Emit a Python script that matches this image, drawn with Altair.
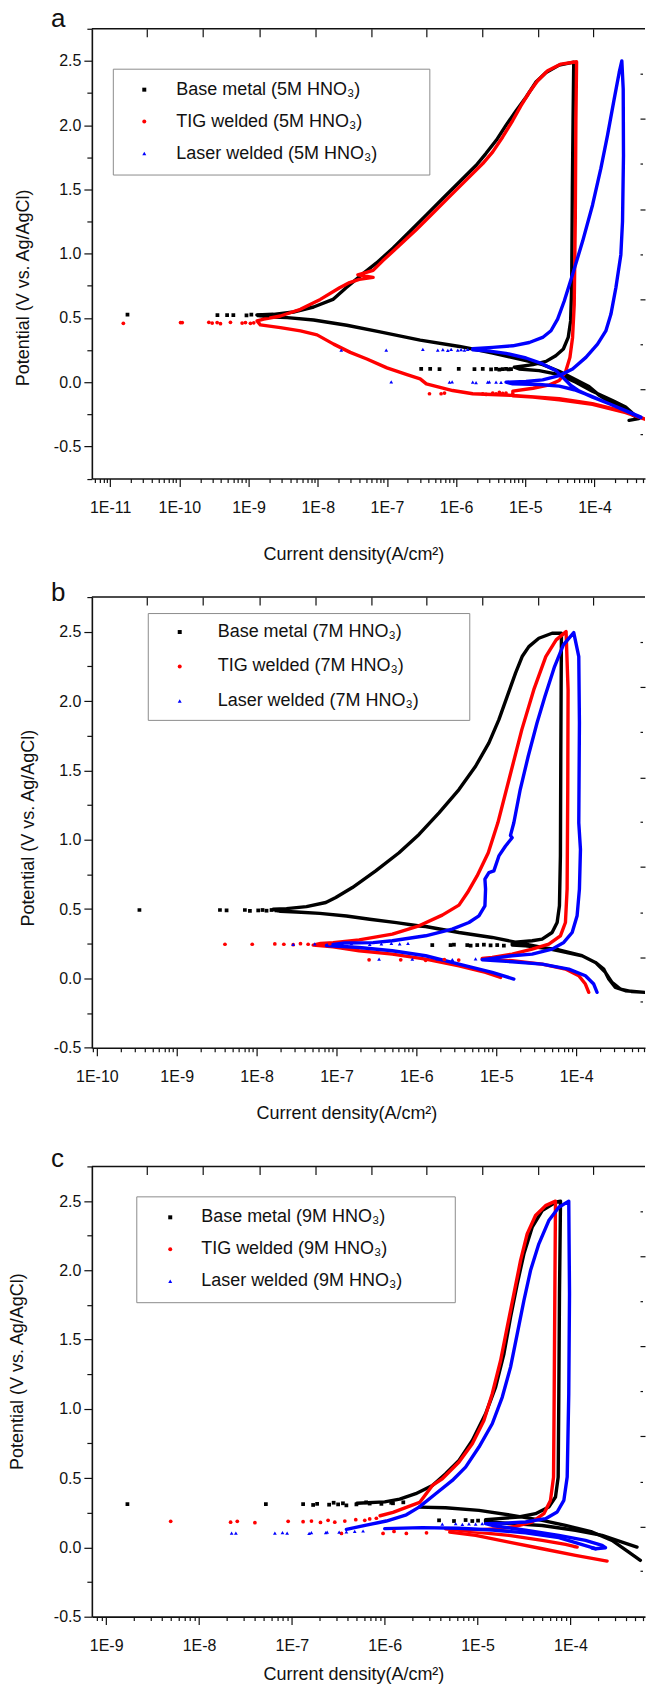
import math
import altair as alt
import pandas as pd

FONT = "Liberation Sans, Arial, Helvetica, sans-serif"
COLORS = ["#000000", "#ff0000", "#0000ff"]
SHAPES = ["square", "circle", "triangle-up"]

# ---------------- Panel a (5M HNO3): log10(current density A/cm2) and potential V ----------------
A_BM_LOGI = [-3.50, -3.36, -3.55, -3.74, -4.03, -4.27, -4.51, -4.80, -5.09,
             -5.16, -4.89, -4.70, -4.56, -4.45, -4.38, -4.345, -4.33, -4.32, -4.31, -4.30,
             -4.51, -4.70, -4.85, -4.99, -5.13, -5.28, -5.42, -5.57, -5.71, -5.95, -6.19, -6.43, -6.67, -6.91,
             -7.15, -7.35, -7.59, -7.78, -8.06, -8.35, -8.64, -8.88,
             -8.73, -8.44, -8.06, -7.58, -7.10, -6.52, -5.95, -5.47, -4.99, -4.75, -4.51, -4.27, -4.08, -3.93,
             -3.74, -3.55, -3.40]
A_BM_V = [-0.297, -0.284, -0.194, -0.142, -0.070, 0.000, 0.059, 0.090, 0.103,
          0.116, 0.137, 0.162, 0.206, 0.258, 0.348, 0.477, 0.735, 1.508, 2.024, 2.490,
          2.467, 2.410, 2.333, 2.217, 2.114, 1.998, 1.882, 1.779, 1.688, 1.560, 1.431, 1.302, 1.173, 1.044,
          0.928, 0.843, 0.735, 0.644, 0.585, 0.546, 0.528, 0.523,
          0.508, 0.502, 0.484, 0.443, 0.392, 0.327, 0.278, 0.227, 0.167, 0.137, 0.085, 0.018, -0.034, -0.103,
          -0.168, -0.219, -0.271]
A_BM_PTS_LOGI = [-6.505, -6.375, -6.24, -5.962, -5.735, -5.615, -5.495, -5.423, -5.375, -5.327, -5.279, -5.24, -5.206,
                 -10.75, -9.45, -9.31, -9.22, -9.03, -8.96, -8.85, -8.80, -8.73]
A_BM_PTS_V = [0.103, 0.103, 0.101, 0.103, 0.101, 0.103, 0.100, 0.103, 0.098, 0.101, 0.103, 0.099, 0.102,
              0.525, 0.522, 0.522, 0.522, 0.519, 0.526, 0.520, 0.524, 0.519]

A_TIG_LOGI = [-3.26, -3.55, -4.03, -4.51, -4.89, -5.18,
              -5.18, -4.89, -4.65, -4.51, -4.42, -4.355, -4.317, -4.293, -4.278, -4.269, -4.259,
              -4.485, -4.677, -4.822, -4.942, -5.062, -5.182, -5.327, -5.471, -5.615, -5.856, -6.096, -6.337,
              -6.577, -6.818, -7.058, -7.20, -7.42, -7.20, -7.40, -7.54, -7.684, -7.963, -8.251, -8.54, -8.78, -8.877,
              -8.83, -8.54, -8.25, -8.01, -7.77, -7.53, -7.29, -7.00, -6.71, -6.52, -6.43, -6.05, -5.76, -5.18,
              -4.51, -4.03, -3.55, -3.26]
A_TIG_V = [-0.289, -0.237, -0.173, -0.137, -0.116, -0.106,
           -0.070, -0.047, -0.021, 0.013, 0.077, 0.193, 0.348, 0.606, 1.250, 2.024, 2.493,
           2.475, 2.423, 2.346, 2.256, 2.152, 2.036, 1.908, 1.792, 1.701, 1.572, 1.444, 1.315,
           1.186, 1.065, 0.946, 0.870, 0.835, 0.815, 0.800, 0.775, 0.735, 0.644, 0.567, 0.515, 0.490, 0.477,
           0.446, 0.425, 0.399, 0.368, 0.296, 0.232, 0.180, 0.111, 0.059, 0.026, -0.013, -0.065, -0.090, -0.103,
           -0.129, -0.168, -0.232, -0.289]
A_TIG_PTS_LOGI = [-6.385, -6.217, -6.168, -5.615, -5.567, -5.471, -5.423, -5.375, -5.327, -5.279,
                  -10.81, -9.983, -9.959, -9.574, -9.526, -9.454, -9.406, -9.262, -9.093, -9.045, -8.973, -8.925]
A_TIG_PTS_V = [-0.090, -0.090, -0.085, -0.090, -0.095, -0.085, -0.090, -0.080, -0.088, -0.085,
               0.458, 0.464, 0.464, 0.466, 0.460, 0.464, 0.455, 0.466, 0.460, 0.464, 0.458, 0.462]

A_LAS_LOGI = [-3.33, -3.547, -3.788, -4.028, -4.22, -4.341, -4.437, -4.557, -4.75, -4.99, -5.279, -5.567, -5.76,
              -5.76, -5.471, -5.182, -4.942, -4.75, -4.629, -4.533, -4.437, -4.317, -4.172, -4.028, -3.908,
              -3.812, -3.715, -3.643, -3.605,
              -3.585, -3.581, -3.595, -3.619, -3.691, -3.763, -3.836, -3.956, -4.124, -4.317, -4.509, -4.75,
              -4.99, -5.279,
              -5.182, -4.798, -4.509, -4.293, -4.076, -3.788, -3.499, -3.33]
A_LAS_V = [-0.276, -0.224, -0.168, -0.116, -0.070, -0.026, 0.026, 0.090, 0.142, 0.188, 0.224, 0.245, 0.252,
           0.260, 0.271, 0.283, 0.309, 0.348, 0.400, 0.490, 0.632, 0.838, 1.096, 1.379, 1.663,
           1.920, 2.204, 2.410, 2.500,
           2.281, 1.766, 1.250, 0.992, 0.735, 0.528, 0.399, 0.296, 0.193, 0.103, 0.051, 0.018,
           0.005, 0.000,
           -0.013, -0.018, -0.031, -0.059, -0.103, -0.168, -0.232, -0.271]
A_LAS_PTS_LOGI = [-7.66, -7.01, -6.481, -6.265, -6.192, -6.12, -6.072, -5.976, -5.928, -5.88, -5.832,
                  -6.938, -6.096, -6.058, -5.76, -5.712, -5.543, -5.52, -5.423, -5.351]
A_LAS_PTS_V = [0.250, 0.250, 0.255, 0.250, 0.253, 0.248, 0.255, 0.250, 0.253, 0.250, 0.255,
               0.003, 0.000, 0.003, 0.000, -0.003, 0.000, 0.003, 0.000, -0.002]

# ---------------- Panel b (7M HNO3) ----------------
B_BM_LOGI = [-3.134, -3.384, -3.509, -3.592, -3.655, -3.759, -3.926, -4.217, -4.634, -4.80,
             -4.80, -4.55, -4.426, -4.301, -4.238, -4.209, -4.197, -4.192, -4.188, -4.184,
             -4.301, -4.467, -4.592, -4.676, -4.759, -4.863, -4.967, -5.092, -5.259, -5.467, -5.717, -5.967,
             -6.217, -6.509, -6.801, -7.009, -7.134, -7.376, -7.626, -7.793,
             -7.70, -7.501, -7.209, -6.876, -6.584, -6.251, -5.959, -5.884, -5.467, -5.051, -4.634, -4.217,
             -3.926, -3.759, -3.634, -3.551, -3.446, -3.301, -3.134]
B_BM_V = [-0.101, -0.089, -0.065, -0.005, 0.067, 0.115, 0.163, 0.206, 0.235, 0.240,
          0.259, 0.271, 0.283, 0.331, 0.403, 0.523, 0.883, 1.602, 2.082, 2.489,
          2.489, 2.453, 2.393, 2.321, 2.201, 2.034, 1.866, 1.698, 1.530, 1.362, 1.194, 1.038,
          0.906, 0.775, 0.655, 0.583, 0.547, 0.517, 0.503, 0.498,
          0.484, 0.479, 0.469, 0.450, 0.426, 0.402, 0.378, 0.374, 0.331, 0.295, 0.247, 0.199,
          0.163, 0.115, 0.043, -0.029, -0.077, -0.096, -0.101]
B_BM_PTS_LOGI = [-5.801, -5.572, -5.53, -5.363, -5.321, -5.238, -5.155, -5.071, -4.988, -4.905,
                 -9.467, -8.459, -8.376, -8.147, -8.084, -7.98, -7.926, -7.876, -7.813, -7.751, -7.688]
B_BM_PTS_V = [0.240, 0.240, 0.243, 0.240, 0.236, 0.240, 0.243, 0.238, 0.240, 0.236,
              0.493, 0.493, 0.490, 0.493, 0.486, 0.490, 0.493, 0.488, 0.493, 0.490, 0.486]

B_TIG_LOGI = [-4.946, -5.134, -5.467, -5.884, -6.301, -6.717, -7.042, -7.292,
              -7.20, -7.042, -6.717, -6.301, -5.967, -5.676, -5.467, -5.36, -5.24, -5.10, -4.98, -4.83,
              -4.68, -4.53, -4.38, -4.25, -4.126,
              -4.101, -4.105, -4.113, -4.134, -4.197, -4.342, -4.551, -4.801, -5.051, -5.176,
              -5.176, -4.801, -4.426, -4.134, -3.967, -3.884, -3.842]
B_TIG_V = [0.007, 0.043, 0.091, 0.139, 0.175, 0.199, 0.228, 0.240,
           0.252, 0.258, 0.278, 0.319, 0.379, 0.456, 0.528, 0.619, 0.739, 0.906, 1.122, 1.458,
           1.794, 2.082, 2.321, 2.441, 2.501,
           2.082, 1.362, 0.643, 0.403, 0.307, 0.247, 0.211, 0.175, 0.151, 0.144,
           0.139, 0.127, 0.103, 0.067, 0.019, -0.041, -0.101]
B_TIG_PTS_LOGI = [-8.396, -8.055, -7.772, -7.659, -7.542, -7.451, -7.355, -7.209, -7.084,
                  -6.592, -6.196, -5.884, -5.65, -5.47]
B_TIG_PTS_V = [0.246, 0.246, 0.248, 0.246, 0.243, 0.250, 0.246, 0.243, 0.250,
               0.134, 0.134, 0.130, 0.136, 0.132]

B_LAS_LOGI = [-4.78, -5.051, -5.467, -5.884, -6.301, -6.717, -7.126,
              -6.90, -6.542, -6.301, -5.884, -5.551, -5.342, -5.217, -5.142, -5.134, -5.142, -5.092, -5.03,
              -4.967, -4.884, -4.801, -4.822, -4.78, -4.70, -4.60, -4.49, -4.39, -4.27, -4.16, -4.03,
              -3.967, -3.959, -3.967, -3.946, -3.959, -3.988, -4.05, -4.155, -4.301, -4.551, -4.801, -5.051,
              -5.176, -4.801, -4.426, -4.092, -3.884, -3.78, -3.738]
B_LAS_V = [-0.005, 0.043, 0.103, 0.163, 0.199, 0.223, 0.237,
           0.255, 0.258, 0.271, 0.307, 0.355, 0.403, 0.451, 0.523, 0.643, 0.715, 0.763, 0.775,
           0.883, 0.955, 1.014, 1.031, 1.122, 1.362, 1.602, 1.842, 2.034, 2.249, 2.405, 2.494,
           2.321, 1.842, 1.122, 0.930, 0.643, 0.451, 0.331, 0.259, 0.211, 0.175, 0.163, 0.144,
           0.134, 0.120, 0.103, 0.067, 0.019, -0.041, -0.101]
B_LAS_PTS_LOGI = [-7.542, -7.272, -7.042, -6.813, -6.584, -6.438, -6.313, -6.209, -6.105,
                  -6.467, -6.051, -5.738, -5.55, -5.259]
B_LAS_PTS_V = [0.245, 0.248, 0.243, 0.250, 0.245, 0.248, 0.252, 0.248, 0.252,
               0.139, 0.139, 0.140, 0.136, 0.140]

# ---------------- Panel c (9M HNO3); None starts a new stretch of the curve ----------------
C_BM_LOGI = [-3.247, -3.372, -3.552, -3.767, -4.053, -4.304, -4.627, -4.985, -5.344, -5.63, None,
             -6.30, -6.00, -5.839, -5.666, -5.487, -5.344, -5.20, -5.057, -4.914, -4.806, -4.716, -4.645,
             -4.573, -4.501, -4.412, -4.304, -4.161, -4.107,
             -4.118, -4.125, -4.132, -4.161, -4.233, -4.376, -4.555, -4.77, -4.914,
             -4.914, -4.627, -4.304, -3.946, -3.659, -3.444, -3.283]
C_BM_V = [-0.094, -0.034, 0.050, 0.111, 0.158, 0.195, 0.231, 0.267, 0.286, 0.290, None,
          0.318, 0.328, 0.348, 0.387, 0.447, 0.531, 0.628, 0.772, 0.964, 1.157, 1.397, 1.662,
          1.902, 2.119, 2.311, 2.431, 2.491, 2.499,
          1.830, 1.108, 0.507, 0.363, 0.291, 0.243, 0.219, 0.207, 0.200,
          0.185, 0.171, 0.158, 0.123, 0.086, 0.038, 0.002]
C_BM_PTS_LOGI = [-8.771, -7.28, -6.879, -6.771, -6.728, -6.599, -6.502, -6.413, -6.305, -6.162, -6.036, -5.911,
                 -6.55, -6.45, -6.2, -5.93, -5.8, -5.415, -5.254, -5.129, -5.057, -4.995]
C_BM_PTS_V = [0.312, 0.312, 0.312, 0.306, 0.314, 0.308, 0.310, 0.303, 0.310, 0.316, 0.314, 0.318,
              0.322, 0.318, 0.325, 0.322, 0.325, 0.195, 0.190, 0.197, 0.190, 0.193]

C_TIG_LOGI = [-3.605, -3.946, -4.304, -4.663, -5.021, -5.30, None,
              -6.05, -5.911, -5.768, -5.624, -5.487, -5.38, -5.20, -5.057, -4.932, -4.842, -4.752, -4.681,
              -4.609, -4.537, -4.466, -4.376, -4.268, -4.161,
              -4.168, -4.175, -4.182, -4.215, -4.286, -4.412, -4.591, -4.77, -5.129,
              -5.344, -5.021, -4.663, -4.304, -4.053, -3.928, -3.96]
C_TIG_V = [-0.099, -0.058, -0.010, 0.038, 0.086, 0.110, None,
           0.228, 0.252, 0.288, 0.324, 0.447, 0.495, 0.616, 0.748, 0.916, 1.109, 1.349, 1.590,
           1.830, 2.071, 2.263, 2.395, 2.467, 2.499,
           1.830, 1.108, 0.507, 0.339, 0.243, 0.183, 0.151, 0.134, 0.122,
           0.134, 0.110, 0.086, 0.050, 0.021, 0.002, 0.005]
C_TIG_PTS_LOGI = [-8.305, -7.66, -7.588, -7.398, -7.04, -6.879, -6.789, -6.692, -6.61, -6.538, -6.43, -6.312,
                  -6.215, -6.162, -6.09, -6.466, -6.018, -5.767, -5.55, -5.9]
C_TIG_PTS_V = [0.188, 0.182, 0.188, 0.178, 0.188, 0.185, 0.190, 0.180, 0.195, 0.182, 0.190, 0.200,
               0.195, 0.205, 0.210, 0.100, 0.100, 0.100, 0.105, 0.115]

C_LAS_LOGI = [-3.73, -4.125, -4.483, -4.842, -5.20, -5.60, -6.00, None,
              -6.413, -6.198, -5.983, -5.767, -5.63, -5.451, -5.272, -5.129, -4.985, -4.842, -4.734, -4.645,
              -4.573, -4.501, -4.43, -4.34, -4.233, -4.125, -4.018,
              -4.01, -4.018, -4.035, -4.071, -4.143, -4.268, -4.483, -4.699, -4.914,
              -4.842, -4.483, -4.125, -3.838, -3.659, -3.623, -3.731, -3.767]
C_LAS_V = [-0.010, 0.070, 0.105, 0.125, 0.138, 0.142, 0.135, None,
           0.130, 0.160, 0.190, 0.235, 0.290, 0.387, 0.483, 0.579, 0.724, 0.892, 1.085, 1.301,
           1.541, 1.782, 1.998, 2.191, 2.359, 2.455, 2.499,
           1.830, 1.108, 0.507, 0.339, 0.255, 0.207, 0.183, 0.175, 0.171,
           0.158, 0.123, 0.086, 0.050, 0.014, -0.003, -0.010, -0.005]
C_LAS_PTS_LOGI = [-7.649, -7.603, -7.183, -7.101, -7.051, -6.814, -6.79, -6.635, -6.62, -6.491, -6.413, -6.323,
                  -6.233, -5.38, -5.236, -5.164, -5.093, -5.021, -4.95]
C_LAS_PTS_V = [0.103, 0.103, 0.103, 0.106, 0.103, 0.100, 0.106, 0.106, 0.110, 0.110, 0.112, 0.115,
               0.118, 0.168, 0.172, 0.165, 0.170, 0.168, 0.172]

# axis ranges (log10 of current density) and potential ranges
A_XLOG = [-11.265, -3.27]
B_XLOG = [-10.0625, -3.138]
C_XLOG = [-9.154, -3.197]
A_YDOM = [-0.75, 2.75]
BC_YDOM = [-0.5, 2.75]

# inward tick marks along the top edge (log10 current) and the right edge (V) as seen in the figure
A_TOP_TICKS = [-10.476, -9.667, -8.843, -8.034, -7.224, -6.43, -5.62, -4.811, -4.016]
B_TOP_TICKS = [-9.38, -8.68, -7.967, -7.267, -6.567, -5.88, -5.18, -4.48, -3.792]
C_TOP_TICKS = [-8.567, -7.965, -7.352, -6.75, -6.148, -5.556, -4.954, -4.352, -3.76]
A_RIGHT_TICKS = [2.40, 2.05, 1.70, 1.347, 0.998, 0.648, 0.295, -0.055, -0.401]
A_RIGHT_LONG = [2.05, 1.347, 0.648, -0.055]
BC_RIGHT_TICKS = [2.426, 2.102, 1.778, 1.45, 1.127, 0.803, 0.475, 0.151, -0.169]
BC_RIGHT_LONG = [2.102, 1.45, 0.803, 0.151]

W = 554
NB = "\u00a0" * 8 + "\u200b"


def names(m):
    return [f"Base metal ({m} HNO\u2083){NB}", f"TIG welded ({m} HNO\u2083){NB}",
            f"Laser welded ({m} HNO\u2083){NB}"]


def line_df(nm, logs_list, v_list):
    rows = []
    for name, logs, vs in zip(nm, logs_list, v_list):
        seg, k = 0, 0
        for lg, v in zip(logs, vs):
            if lg is None:
                seg += 1
                continue
            rows.append({"series": name, "seg": f"{name}-{seg}", "k": k, "i": 10 ** lg, "v": v})
            k += 1
    return pd.DataFrame(rows)


def pts_df(nm, logs_list, v_list):
    rows = []
    for name, logs, vs in zip(nm, logs_list, v_list):
        for lg, v in zip(logs, vs):
            rows.append({"series": name, "i": 10 ** lg, "v": v})
    return pd.DataFrame(rows)


def log_ticks(lo, hi):
    out = []
    for d in range(math.floor(lo), math.ceil(hi) + 1):
        for m in range(1, 10):
            t = m * 10.0 ** d
            if 10 ** lo <= t <= 10 ** hi:
                out.append(t)
    return out


XMAJ = "abs(log(datum.value)/LN10 - round(log(datum.value)/LN10)) < 0.001"
YMAJ = "abs(datum.value*2 - round(datum.value*2)) < 0.001"


def panel(label, m, lines, pts, xlog, ydom, H, leg, ytitle, xtitle, tag_y, top_ticks, right_ticks, right_long):
    nm = names(m)
    ldf = line_df(nm, *lines)
    pdf = pts_df(nm, *pts)
    yvals = [ydom[0] + 0.25 * k for k in range(int(round((ydom[1] - ydom[0]) / 0.25)) + 1)]
    xsc = alt.Scale(type="log", domain=[10 ** xlog[0], 10 ** xlog[1]], nice=False)
    ysc = alt.Scale(domain=ydom, nice=False, zero=False)
    xaxis = alt.Axis(
        values=log_ticks(*xlog),
        labelExpr=f"{XMAJ} ? '1E' + round(log(datum.value)/LN10) : ''",
        tickSize={"condition": {"test": XMAJ, "value": 8}, "value": 4},
        labelOverlap=False, labelFlush=False, labelPadding=13, grid=False, orient="bottom",
        title="Current density(A/cm\u00b2)", titleX=xtitle[0], titleY=xtitle[1],
        titleBaseline="middle", titleAlign="center",
    )
    yaxis = alt.Axis(
        values=yvals,
        labelExpr=f"{YMAJ} ? (datum.value < -0.001 ? '-' : '') + format(abs(datum.value), '.1f') : ''",
        tickSize={"condition": {"test": YMAJ, "value": 8}, "value": 5},
        labelOverlap=False, labelPadding=3, grid=False, orient="left",
        title="Potential (V vs. Ag/AgCl)", titleAngle=270, titleX=ytitle[0], titleY=ytitle[1],
        titleBaseline="middle", titleAlign="center",
    )
    legend = alt.Legend(
        title=None, orient="none", legendX=leg["x"], legendY=leg["y"],
        padding=leg["pad"], rowPadding=leg["row"], symbolOffset=leg["soff"], labelOffset=leg["loff"],
        labelFont=FONT, labelFontSize=18, labelColor="#111", labelLimit=500,
        strokeColor="#8c8c8c", fillColor="white", symbolSize=16,
    )
    line_layer = alt.Chart(ldf).mark_line(strokeWidth=3.4, clip=True, strokeJoin="round", strokeCap="round").encode(
        x=alt.X("i:Q", scale=xsc, axis=xaxis),
        y=alt.Y("v:Q", scale=ysc, axis=yaxis),
        stroke=alt.Stroke("series:N", scale=alt.Scale(domain=nm, range=COLORS), legend=None),
        detail="seg:N",
        order=alt.Order("k:Q"),
    )
    pt_layer = alt.Chart(pdf).mark_point(filled=True, size=14, opacity=1, clip=True).encode(
        x=alt.X("i:Q", scale=xsc, axis=None),
        y=alt.Y("v:Q", scale=ysc, axis=None),
        color=alt.Color("series:N", scale=alt.Scale(domain=nm, range=COLORS), legend=legend),
        shape=alt.Shape("series:N", scale=alt.Scale(domain=nm, range=SHAPES), legend=legend),
    )
    top_vals = [10 ** t for t in top_ticks]
    top_layer = alt.Chart(pd.DataFrame({"i": top_vals})).mark_rule(opacity=0).encode(
        x=alt.X("i:Q", scale=xsc, axis=alt.Axis(
            orient="top", values=top_vals, labels=False, domain=False, grid=False,
            tickSize=8, offset=-8, title=None)),
    )
    long_list = "[" + ",".join(str(v) for v in right_long) + "]"
    right_layer = alt.Chart(pd.DataFrame({"v": right_ticks})).mark_rule(opacity=0).encode(
        y=alt.Y("v:Q", scale=ysc, axis=alt.Axis(
            orient="right", values=right_ticks, labels=False, domain=False, grid=False,
            tickSize={"condition": {"test": f"indexof({long_list}, datum.value) >= 0", "value": 5}, "value": 2.5},
            offset=-5, title=None)),
    )
    frame_top = alt.Chart(pd.DataFrame({"z": [0]})).mark_rule(color="#111", strokeWidth=1.5).encode(
        x=alt.value(0), x2=alt.value(W), y=alt.value(0)
    )
    tag = alt.Chart(pd.DataFrame({"t": [label]})).mark_text(
        align="left", baseline="top", fontSize=26, font=FONT, color="#111"
    ).encode(x=alt.value(-41), y=alt.value(tag_y), text="t:N")
    return alt.layer(line_layer, pt_layer, top_layer, right_layer, frame_top, tag).properties(
        width=W, height=H,
    ).resolve_scale(stroke="independent").resolve_axis(x="independent", y="independent")


pa = panel("a", "5M",
           ([A_BM_LOGI, A_TIG_LOGI, A_LAS_LOGI], [A_BM_V, A_TIG_V, A_LAS_V]),
           ([A_BM_PTS_LOGI, A_TIG_PTS_LOGI, A_LAS_PTS_LOGI], [A_BM_PTS_V, A_TIG_PTS_V, A_LAS_PTS_V]),
           A_XLOG, A_YDOM, 450.5,
           {"x": 21, "y": 40, "pad": 12, "row": 14, "soff": 10.5, "loff": 23},
           (-68.7, 259), (262, 76), -22.3, A_TOP_TICKS, A_RIGHT_TICKS, A_RIGHT_LONG)
pb = panel("b", "7M",
           ([B_BM_LOGI, B_TIG_LOGI, B_LAS_LOGI], [B_BM_V, B_TIG_V, B_LAS_V]),
           ([B_BM_PTS_LOGI, B_TIG_PTS_LOGI, B_LAS_PTS_LOGI], [B_BM_PTS_V, B_TIG_PTS_V, B_LAS_PTS_V]),
           B_XLOG, BC_YDOM, 451.3,
           {"x": 56, "y": 16, "pad": 10, "row": 16.5, "soff": 13, "loff": 29},
           (-63.1, 231), (255, 66), -17, B_TOP_TICKS, BC_RIGHT_TICKS, BC_RIGHT_LONG)
pc = panel("c", "9M",
           ([C_BM_LOGI, C_TIG_LOGI, C_LAS_LOGI], [C_BM_V, C_TIG_V, C_LAS_V]),
           ([C_BM_PTS_LOGI, C_TIG_PTS_LOGI, C_LAS_PTS_LOGI], [C_BM_PTS_V, C_TIG_PTS_V, C_LAS_PTS_V]),
           C_XLOG, BC_YDOM, 450.9,
           {"x": 44.5, "y": 30, "pad": 12, "row": 14, "soff": 13, "loff": 22},
           (-74.1, 205), (262, 58), -20, C_TOP_TICKS, BC_RIGHT_TICKS, BC_RIGHT_LONG)

chart = alt.vconcat(pa, pb, pc, spacing=118.2, bounds="flush").resolve_scale(
    color="independent", shape="independent", stroke="independent"
).resolve_legend(color="independent", shape="independent").properties(
    padding={"left": 8, "top": 4.5, "right": 0, "bottom": 0}
).configure_view(stroke=None).configure_axis(
    domainColor="#111", domainWidth=1.6, tickColor="#111", tickWidth=1.2,
    labelFont=FONT, labelFontSize=16, labelColor="#111",
    titleFont=FONT, titleFontSize=18, titleFontWeight="normal", titleColor="#111",
)

chart.save("out.html", embed_options={"renderer": "svg", "actions": False})
